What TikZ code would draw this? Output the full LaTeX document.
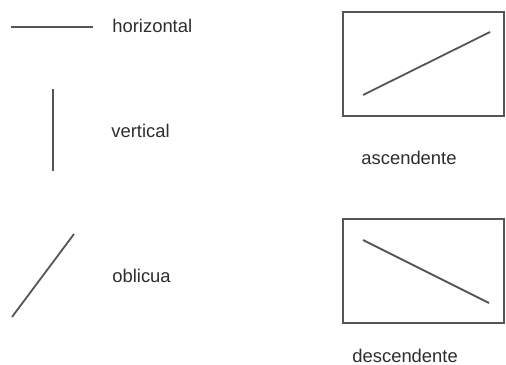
\documentclass[tikz,border=0pt]{standalone}
\usepackage{fontspec}
\setmainfont{Liberation Sans}
\usetikzlibrary{positioning}
\definecolor{lnGray}{RGB}{85,85,85}
\definecolor{txGray}{RGB}{45,45,45}
\tikzset{
    base/.style={font=\fontsize{9.2}{11}\selectfont, text=txGray},
    word/.style={base, anchor=west, inner sep=0pt},
    frame/.style={draw=lnGray, line width=1pt, minimum width=80.5pt, minimum height=52pt, inner sep=0pt},
    stroke/.style={draw=lnGray, line width=0.9pt}
}
\begin{document}
\begin{tikzpicture}[x=0.5pt, y=-0.5pt]
  \useasboundingbox (0,0) rectangle (506,364);

  % left column
  \coordinate (hA) at (11,27);
  \coordinate (hB) at (93,27);
  \draw[stroke] (hA) -- (hB);
  \node[word] (horizontal) at (112,26) {horizontal};

  \coordinate (vA) at (53,89);
  \coordinate (vB) at (53,171);
  \draw[stroke] (vA) -- (vB);
  \node[word] (vertical) at (111,131) {vertical};

  \coordinate (oA) at (12,317);
  \coordinate (oB) at (74,234);
  \draw[stroke] (oA) -- (oB);
  \node[word] (oblicua) at (112,276) {oblicua};

  % right column
  \node[frame] (asc) at (423.5,64) {};
  \draw[stroke] ([shift={(21,31)}]asc.west) -- ([shift={(-15,-32)}]asc.east);
  \node[word] (ascendente) at (361,158) {ascendente};

  \node[frame] (desc) at (423.5,271) {};
  \draw[stroke] ([shift={(21,-31)}]desc.west) -- ([shift={(-16,32)}]desc.east);
  \node[word] (descendente) at (352,356) {descendente};
\end{tikzpicture}
\end{document}
